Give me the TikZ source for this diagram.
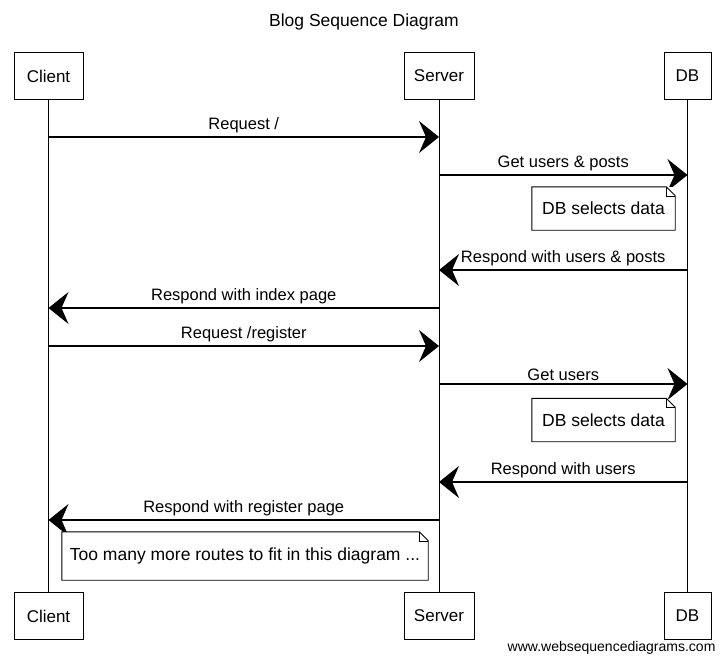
\documentclass[tikz,border=0pt]{standalone}
\usepackage{fontspec}
\setmainfont{Liberation Sans}
\usetikzlibrary{arrows.meta}

\begin{document}
\begin{tikzpicture}[x=1pt,y=-1pt]
		\tikzstyle{actor} = [draw, line width=0.9, minimum height=47, inner sep=2, text centered, font=\fontsize{17}{19}\selectfont]
		\tikzstyle{life} = [draw, line width=0.8]
		\tikzstyle{msg} = [-{Stealth[length=20, width=32, inset=7]}, line width=1.3]
		\tikzstyle{lbl} = [above, inner sep=3, font=\fontsize{16.5}{18}\selectfont]
		\tikzstyle{invisible} = [outer sep=0,inner sep=0,minimum size=0]
		\tikzstyle{note} = [fill=white, inner sep=4, font=\fontsize{17.5}{19}\selectfont]
		\fill [white] (0,0) rectangle (728,662);
		\useasboundingbox (0,0) rectangle (728,662);
		\node [font=\fontsize{17.5}{19}\selectfont] (title) at (364,22) {Blog Sequence Diagram};
		% actors
		\node [actor, minimum width=69] (c1) at (48.5,76) {Client};
		\node [actor, minimum width=70] (s1) at (439,76) {Server};
		\node [actor, minimum width=47] (d1) at (687.5,76) {DB};
		\node [actor, minimum width=69] (c2) at (48.5,616) {Client};
		\node [actor, minimum width=70] (s2) at (439,616) {Server};
		\node [actor, minimum width=47] (d2) at (687.5,616) {DB};
		\draw [life] (c1) -- (c2);
		\draw [life] (s1) -- (s2);
		\draw [life] (d1) -- (d2);
		% message ends on the lifelines
		\node [invisible] (m1a) at (48.5,137) {};
		\node [invisible] (m1b) at (439,137) {};
		\node [invisible] (m2a) at (439,175) {};
		\node [invisible] (m2b) at (687.5,175) {};
		\node [invisible] (m3a) at (687.5,270) {};
		\node [invisible] (m3b) at (439,270) {};
		\node [invisible] (m4a) at (439,308) {};
		\node [invisible] (m4b) at (48.5,308) {};
		\node [invisible] (m5a) at (48.5,346) {};
		\node [invisible] (m5b) at (439,346) {};
		\node [invisible] (m6a) at (439,384) {};
		\node [invisible] (m6b) at (687.5,384) {};
		\node [invisible] (m7a) at (687.5,482) {};
		\node [invisible] (m7b) at (439,482) {};
		\node [invisible] (m8a) at (439,520) {};
		\node [invisible] (m8b) at (48.5,520) {};
		\draw [msg] (m1a) -- node [lbl] {Request /} (m1b);
		\draw [msg] (m2a) -- node [lbl] {Get users \& posts} (m2b);
		\draw [msg] (m3a) -- node [lbl] {Respond with users \& posts} (m3b);
		\draw [msg] (m4a) -- node [lbl] {Respond with index page} (m4b);
		\draw [msg] (m5a) -- node [lbl] {Request /register} (m5b);
		\draw [msg] (m6a) -- node [lbl] {Get users} (m6b);
		\draw [msg] (m7a) -- node [lbl] {Respond with users} (m7b);
		\draw [msg] (m8a) -- node [lbl] {Respond with register page} (m8b);
		% notes
		\node [note, minimum width=143, minimum height=43] (n1) at (603.5,208.5) {DB selects data};
		\node [note, minimum width=143, minimum height=43] (n2) at (603.5,420) {DB selects data};
		\node [note, minimum width=366, minimum height=48] (n3) at (245,556) {Too many more routes to fit in this diagram ...};
		\foreach \n in {n1,n2,n3} {
			\draw [line width=0.9] (\n.north west) -- ([xshift=-9pt]\n.north east) -- ([yshift=-9pt]\n.north east) -- (\n.south east) -- (\n.south west) -- cycle;
			\draw [line width=0.6] ([xshift=-9pt]\n.north east) -- ([xshift=-9pt,yshift=-9pt]\n.north east) -- ([yshift=-9pt]\n.north east);
		}
		\node [anchor=east, font=\fontsize{14}{16}\selectfont] (web) at (719,648) {www.websequencediagrams.com};
\end{tikzpicture}
\end{document}
